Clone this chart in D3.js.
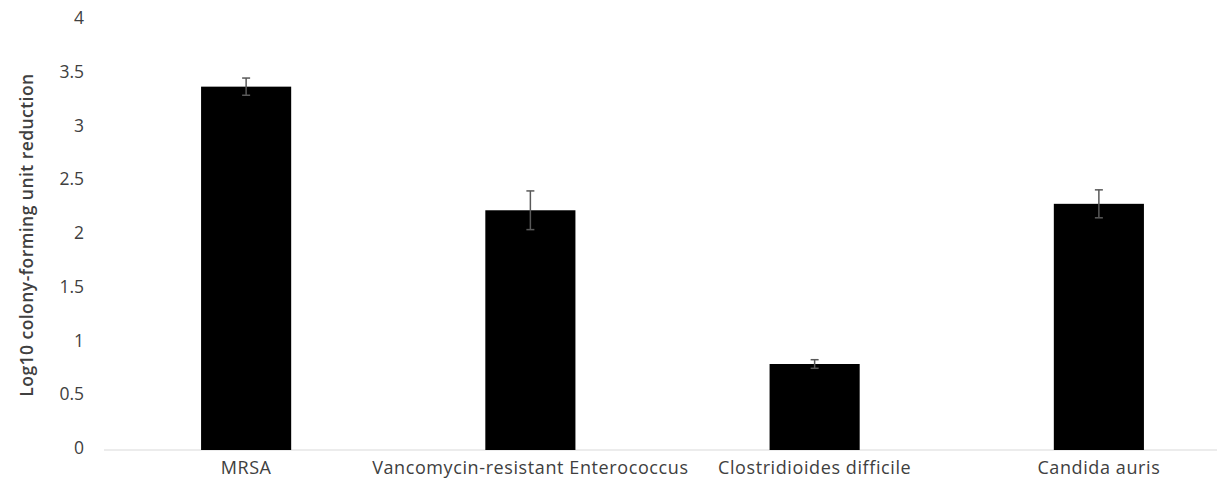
<!DOCTYPE html>
<html><head><meta charset="utf-8">
<script src="https://cdn.jsdelivr.net/npm/d3@7"></script>
<style>body{margin:0;background:#fff;} svg{display:block;}</style>
</head><body>
<script>
const categories = ["MRSA", "Vancomycin-resistant Enterococcus", "Clostridioides difficile", "Candida auris"];
const values = [3.38, 2.23, 0.80, 2.29];
const errors = [0.08, 0.18, 0.04, 0.13];
const yTicks = [0, 0.5, 1, 1.5, 2, 2.5, 3, 3.5, 4];
const yTitle = "Log10 colony-forming unit reduction";

const W = 1217, H = 479;
const svg = d3.select("body").append("svg").attr("width", W).attr("height", H);
const font = "'Open Sans', sans-serif";

const x = d3.scaleBand().domain(categories).range([104, 1241]).paddingInner(0.683).paddingOuter(0.3415);
const y = d3.scaleLinear().domain([0, 4]).range([450, 20]);

// baseline
svg.append("line").attr("x1", 104).attr("x2", 1241).attr("y1", y(0)).attr("y2", y(0))
  .attr("stroke", "#d9d9d9").attr("stroke-width", 1);

// y tick labels
svg.append("g").selectAll("text").data(yTicks).join("text")
  .attr("x", 84).attr("y", d => y(d) - 2).attr("dy", "0.35em")
  .attr("text-anchor", "end").attr("font-family", font).attr("font-size", 17.5).attr("fill", "#404040")
  .text(d => d);

// bars
svg.append("g").selectAll("rect").data(categories).join("rect")
  .attr("x", d => x(d)).attr("width", x.bandwidth())
  .attr("y", (d, i) => y(values[i])).attr("height", (d, i) => y(0) - y(values[i]))
  .attr("fill", "#000");

// error bars
const eb = svg.append("g").attr("stroke", "#595959").attr("stroke-width", 1.5);
categories.forEach((c, i) => {
  const cx = x(c) + x.bandwidth() / 2;
  const top = y(values[i] + errors[i]), bot = y(values[i] - errors[i]);
  eb.append("line").attr("x1", cx).attr("x2", cx).attr("y1", top).attr("y2", bot);
  eb.append("line").attr("x1", cx - 4).attr("x2", cx + 4).attr("y1", top).attr("y2", top);
  eb.append("line").attr("x1", cx - 4).attr("x2", cx + 4).attr("y1", bot).attr("y2", bot);
});

// x labels
svg.append("g").selectAll("text").data(categories).join("text")
  .attr("x", d => x(d) + x.bandwidth() / 2).attr("y", 474)
  .attr("text-anchor", "middle").attr("font-family", font).attr("font-size", 18)
  .attr("letter-spacing", 0.6).attr("fill", "#404040")
  .text(d => d);

// y title
svg.append("text").attr("transform", "translate(27,235) rotate(-90)")
  .attr("text-anchor", "middle").attr("dy", "0.35em").attr("font-family", font).attr("font-size", 17.5)
  .attr("letter-spacing", 0.45).attr("font-weight", 600).attr("fill", "#404040").text(yTitle);
</script>
</body></html>
